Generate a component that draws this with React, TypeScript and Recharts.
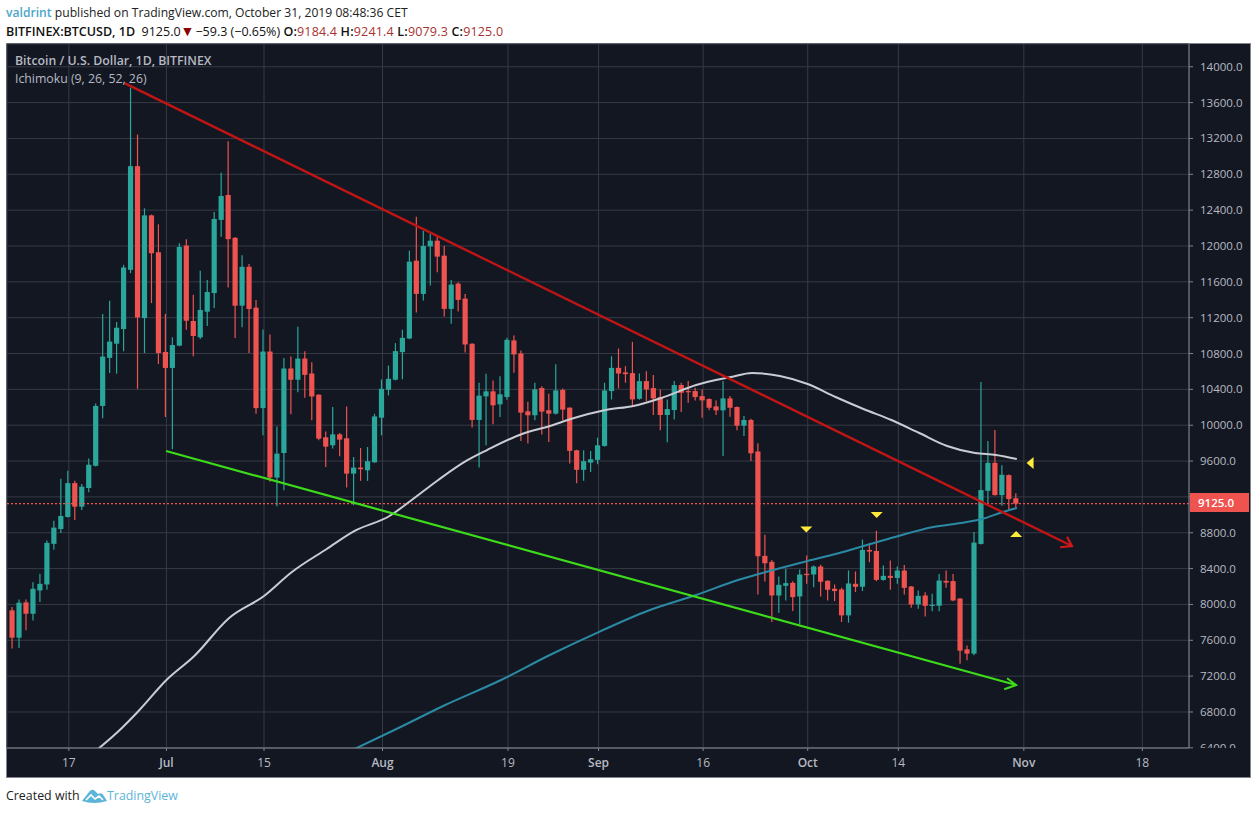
import React from 'react';
import {
  ComposedChart, Bar, Line, XAxis, YAxis, CartesianGrid, ReferenceLine, ReferenceDot,
} from 'recharts';

const FIRST_DAY = -8; // days counted from 17 Jun 2019

const opens = [
  7934,7629,8023,7896,8156,8223,8676,8842,8976,9354,
  9091,9299,9547,10215,10751,10910,11073,11734,12891,11196,
  12342,11930,10817,10639,10888,12005,11163,10981,11267,11475,
  12291,12569,12091,11334,11768,11312,10191,10822,9416,9690,
  10633,10507,10744,10577,10340,9865,9776,9898,9854,9460,
  9527,9497,9586,10084,10395,10508,10816,10968,11836,11465,
  11996,12059,11892,11298,11580,11413,10909,10059,10322,10378,
  10233,10315,10946,10801,10155,10111,10415,10167,10129,10393,
  10196,9720,9502,9583,9613,9769,10381,10640,10589,10581,
  10295,10492,10414,10314,10114,10169,10448,10381,10381,10325,
  10292,10210,10166,10299,10203,9995,10058,9707,8542,8475,
  8100,8208,8241,8089,8342,8334,8423,8264,8175,8167,
  7878,8230,8197,8608,8597,8274,8319,8296,8378,8200,
  8000,8100,7985,7985,8263,8260,8066,7499,7451,8675,
  9268,9580,9220,9443,9184.4,
];
const closes = [
  7629,8019,7896,8175,8230,8687,8857,8987,9354,9091,
  9314,9559,10215,10766,10933,11088,11760,12891,11203,12342,
  11919,10806,10639,10895,11990,11166,10996,11286,11486,12302,
  12558,12076,11334,11768,11297,10191,10822,9416,9683,10633,
  10507,10744,10562,10321,9850,9761,9898,9839,9460,9527,
  9509,9598,10098,10406,10518,10827,10975,11825,11465,12000,
  12059,11881,11298,11569,11398,10901,10059,10330,10378,10222,
  10345,10953,10790,10141,10111,10400,10152,10129,10389,10174,
  9714,9502,9598,9620,9776,10388,10640,10577,10570,10288,
  10492,10399,10299,10114,10180,10448,10362,10370,10314,10277,
  10195,10166,10299,10195,9995,10058,9687,8538,8460,8100,
  8219,8238,8082,8334,8327,8423,8253,8164,8149,7878,
  8234,8197,8608,8590,8274,8319,8296,8378,8185,8000,
  8096,7985,7996,8267,8244,8044,7484,7451,8690,9276,
  9580,9220,9447,9176,9125,
];
const highs = [
  7971,8056,8056,8249,8342,8713,8935,9403,9492,9380,
  9343,9629,10241,11240,11389,11151,11790,13766,13244,12420,
  12350,12242,11240,10981,12031,12075,11456,11723,11620,12380,
  12818,13170,12100,11898,11798,11397,11067,11011,9987,10751,
  10766,11100,10826,10703,10345,9931,10202,9913,10210,9646,
  9746,9757,10128,10510,10666,10916,11064,11947,12326,12170,
  12133,12103,12003,11621,11595,11465,10915,10475,10575,10500,
  10545,10975,11001,10834,10263,10475,10434,10352,10679,10410,
  10200,9725,9720,9713,9861,10474,10770,10856,10659,10930,
  10577,10603,10559,10399,10288,10492,10474,10492,10418,10399,
  10300,10277,10492,10325,10210,10103,10073,9800,8779,8497,
  8312,8397,8260,8390,8546,8435,8442,8270,8223,8186,
  8379,8368,8724,8682,8823,8434,8489,8423,8441,8205,
  8155,8137,8118,8341,8378,8341,8070,7543,8808,10482,
  9825,9947,9554,9450,9241.4,
];
const lows = [
  7507,7514,7711,7822,8026,8164,8609,8798,8970,8943,
  9054,9251,9540,10078,10584,10573,10825,11697,10406,10806,
  11363,10684,10093,9733,10880,11066,10770,10963,11108,11308,
  12102,11538,10974,11093,10807,10128,9887,9368,9097,9275,
  10121,10369,10306,10054,9831,9535,9739,9653,9304,9108,
  9379,9379,9580,9887,10332,10500,10512,10960,11257,11391,
  11558,11706,11213,11131,11268,10812,9974,9528,9777,10011,
  10092,10285,10586,9825,9796,10055,9896,9814,10120,10055,
  9573,9353,9379,9479,9565,9760,10288,10410,10474,10221,
  10285,10269,10114,9943,9809,10065,10147,10251,10277,10084,
  10166,10114,9657,10095,9943,9880,9602,8112,8256,7804,
  7904,8045,7926,7778,8230,8193,8089,8045,8037,7804,
  7796,8138,8149,8471,8259,8265,8163,8230,8111,7963,
  7951,7866,7925,7925,8185,8035,7339,7376,7432,8670,
  9120,9215,9101,9046,9079.3,
];

const grayDays = [4,7,10,14,18,23,28,32,37,41,46,49,53,57,60,65,69,72,77,81,85,90,95,98,102,106,110,114,118,122,126,130,133,136];
const grayVals = [6375,6576,6811,7157,7425,7849,8094,8362,8619,8820,8987,9154,9389,9601,9723,9902,9991,10069,10170,10215,10304,10449,10538,10583,10549,10460,10315,10181,10058,9913,9768,9690,9668,9623];
const tealDays = [41,47,54,62,69,76,83,90,96,100,106,110,115,119,124,128,131,134,136];
const tealVals = [6387,6610,6878,7157,7436,7692,7927,8105,8273,8362,8485,8563,8674,8764,8864,8909,8953,9032,9076];

const redTrendDays = [8.06, 143.9];
const redTrendVals = [13814, 8652];
const redHeadDays = [142.2, 143.9, 143.2];
const redHeadVals = [8638, 8652, 8756];
const greenTrendDays = [13.95, 135.9];
const greenTrendVals = [9712, 7101];
const greenHeadDays = [134.2, 135.9, 134.6];
const greenHeadVals = [7053, 7101, 7176];

const markerDays = [105.8, 115.9, 135.9, 137.9];
const markerVals = [8836, 8998, 8786, 9578];
const markerDirs = ['down', 'down', 'up', 'left'];

const xTicks = [0, 14, 28, 45, 63, 76, 91, 106, 119, 137, 154];
const xLabels = ['17', 'Jul', '15', 'Aug', '19', 'Sep', '16', 'Oct', '14', 'Nov', '18'];
const monthLabels = ['Jul', 'Aug', 'Sep', 'Oct', 'Nov'];
const yTicks = [6400,6800,7200,7600,8000,8400,8800,9200,9600,10000,10400,10800,11200,11600,12000,12400,12800,13200,13600,14000];
const hiddenYLabel = 9200; // covered by the last-price tag

const LAST_PRICE = 9125;
const UP = '#2aa69b';
const DOWN = '#ef5350';
const FONT = '"Open Sans", sans-serif';

const candles = opens.map((o, i) => ({
  day: FIRST_DAY + i, open: o, close: closes[i], high: highs[i], low: lows[i], range: [lows[i], highs[i]],
}));
const pairs = (days: number[], vals: number[]) => days.map((d, i) => ({ day: d, v: vals[i] }));

const Candle = (p: any) => {
  const { x, y, width, height, payload } = p;
  const perUnit = height / (payload.high - payload.low);
  const yOf = (v: number) => y + (payload.high - v) * perUnit;
  const top = yOf(Math.max(payload.open, payload.close));
  const bot = yOf(Math.min(payload.open, payload.close));
  const color = payload.close >= payload.open ? UP : DOWN;
  const cx = x + width / 2 - 1;
  return (
    <g>
      <line x1={cx} x2={cx} y1={y} y2={y + height} stroke={color} strokeWidth={1.2} />
      <rect x={cx - 2.6} width={5.2} y={top} height={Math.max(bot - top, 1.2)} fill={color} />
    </g>
  );
};

const Tri = (dir: string) => (p: any) => {
  const { cx, cy } = p;
  const pts =
    dir === 'down' ? `${cx - 6},${cy - 3} ${cx + 6},${cy - 3} ${cx},${cy + 3}` :
    dir === 'up' ? `${cx - 6},${cy + 3} ${cx + 6},${cy + 3} ${cx},${cy - 3}` :
    `${cx + 3.5},${cy - 6} ${cx + 3.5},${cy + 6} ${cx - 3.5},${cy}`;
  return <polygon points={pts} fill="#ffeb3b" />;
};

const XTick = (p: any) => {
  const { x, y, payload } = p;
  const label = xLabels[xTicks.indexOf(payload.value)];
  const bold = monthLabels.includes(label);
  return (
    <text x={x} y={y + 14} textAnchor="middle" fontFamily={FONT} fontSize={12} fontWeight={bold ? 600 : 400} fill="#b7bac3">
      {label}
    </text>
  );
};

const YTick = (p: any) => {
  const { x, y, payload } = p;
  if (payload.value === hiddenYLabel) return <g />;
  return (
    <g clipPath="url(#yAxisClip)">
      <text x={x + 5} y={y + 4} fontFamily={FONT} fontSize={11.5} fill="#b7bac3">
        {payload.value.toFixed(1)}
      </text>
    </g>
  );
};

const abs = (left: number, top: number, extra: React.CSSProperties = {}): React.CSSProperties => ({
  position: 'absolute', left, top, whiteSpace: 'nowrap', fontFamily: FONT, ...extra,
});

export default function App() {
  return (
    <div style={{ position: 'absolute', left: 0, top: 0, width: 1256, height: 813, background: '#fff', overflow: 'hidden' }}>
      <div style={abs(6, 4, { fontSize: 12.15, color: '#222' })}>
        <span style={{ color: '#4aa6c9', fontWeight: 600 }}>valdrint</span> published on TradingView.com, October 31, 2019 08:48:36 CET
      </div>
      <div style={abs(6, 21, { fontSize: 12.5, color: '#111' })}>
        <b style={{ fontWeight: 600 }}>BITFINEX:BTCUSD, 1D</b>&nbsp; 9125.0<span style={{ color: '#8b0000', fontSize: 14, margin: '0 1px 0 0' }}>▼</span>−59.3 (−0.65%){' '}
        <span style={{ letterSpacing: 0.18 }}>
          <b style={{ fontWeight: 600 }}>O:</b><span style={{ color: '#a8322f' }}>9184.4</span>{' '}
          <b style={{ fontWeight: 600 }}>H:</b><span style={{ color: '#a8322f' }}>9241.4</span>{' '}
          <b style={{ fontWeight: 600 }}>L:</b><span style={{ color: '#a8322f' }}>9079.3</span>{' '}
          <b style={{ fontWeight: 600 }}>C:</b><span style={{ color: '#a8322f' }}>9125.0</span>
        </span>
      </div>

      <div style={{ position: 'absolute', left: 6, top: 43, width: 1243, height: 733, background: '#131722', border: '1px solid #82858c', boxSizing: 'content-box' }} />

      <div style={{ position: 'absolute', left: 0, top: 0 }}>
        <ComposedChart
          width={1256}
          height={813}
          data={candles}
          margin={{ top: 44, left: 7, right: 7, bottom: 37 }}
        >
          <defs>
            <clipPath id="yAxisClip"><rect x={1189} y={44} width={60} height={704} /></clipPath>
          </defs>
          <CartesianGrid stroke="#363a45" strokeWidth={1} />
          <XAxis
            dataKey="day"
            type="number"
            domain={[-8.87, 160.7]}
            allowDataOverflow
            ticks={xTicks}
            interval={0}
            height={28}
            tick={<XTick />}
            tickLine={{ stroke: '#82858c' }}
            tickSize={3}
            axisLine={{ stroke: '#82858c' }}
          />
          <YAxis
            orientation="right"
            type="number"
            domain={[6398, 14254]}
            allowDataOverflow
            ticks={yTicks}
            interval={0}
            width={60}
            tick={<YTick />}
            tickLine={{ stroke: '#82858c' }}
            tickSize={4}
            axisLine={{ stroke: '#82858c' }}
          />
          <Bar dataKey="range" barSize={5} shape={<Candle />} isAnimationActive={false} />
          <ReferenceLine y={LAST_PRICE} stroke={DOWN} strokeDasharray="2 2" strokeWidth={1.1} />
          <Line type="monotone" data={pairs(grayDays, grayVals)} dataKey="v" stroke="#c9ccd3" strokeWidth={2} dot={false} isAnimationActive={false} legendType="none" />
          <Line type="monotone" data={pairs(tealDays, tealVals)} dataKey="v" stroke="#2a8aa3" strokeWidth={2} dot={false} isAnimationActive={false} legendType="none" />
          <Line data={pairs(redTrendDays, redTrendVals)} dataKey="v" stroke="#c01515" strokeWidth={2.4} dot={false} isAnimationActive={false} legendType="none" />
          <Line data={pairs(redHeadDays, redHeadVals)} dataKey="v" stroke="#d01a1a" strokeWidth={2.2} dot={false} isAnimationActive={false} legendType="none" />
          <Line data={pairs(greenTrendDays, greenTrendVals)} dataKey="v" stroke="#3ddc1a" strokeWidth={2.2} dot={false} isAnimationActive={false} legendType="none" />
          <Line data={pairs(greenHeadDays, greenHeadVals)} dataKey="v" stroke="#3ddc1a" strokeWidth={2} dot={false} isAnimationActive={false} legendType="none" />
          {markerDays.map((d, i) => (
            <ReferenceDot key={i} x={d} y={markerVals[i]} shape={Tri(markerDirs[i])} ifOverflow="visible" />
          ))}
        </ComposedChart>
      </div>

      <div style={abs(15, 52, { fontSize: 12.3, color: '#b7bac3', fontWeight: 600 })}>Bitcoin / U.S. Dollar, 1D, BITFINEX</div>
      <div style={abs(15, 70, { fontSize: 12.3, color: '#b7bac3' })}>Ichimoku (9, 26, 52, 26)</div>

      <div style={abs(1190, 493, { width: 51, paddingLeft: 8, height: 19, background: DOWN, color: '#fff', fontSize: 11.5, fontWeight: 600, lineHeight: '19px' })}>9125.0</div>

      <div style={abs(6, 787, { fontSize: 12.4, color: '#222' })}>Created with</div>
      <svg style={{ position: 'absolute', left: 82, top: 788 }} width={25} height={15} viewBox="0 0 25 15">
        <path d="M0 13 L7 4 Q10 0 13 3 L16 6 Q20 4 22 8 L25 13 Q12 17 0 13 Z" fill="#5cb4d8" />
        <path d="M4 12 L9 7 L13 11 L17 8 L21 12" fill="none" stroke="#fff" strokeWidth={1.6} />
      </svg>
      <div style={abs(107, 787, { fontSize: 12.4, color: '#5cb4d8' })}>TradingView</div>
    </div>
  );
}
